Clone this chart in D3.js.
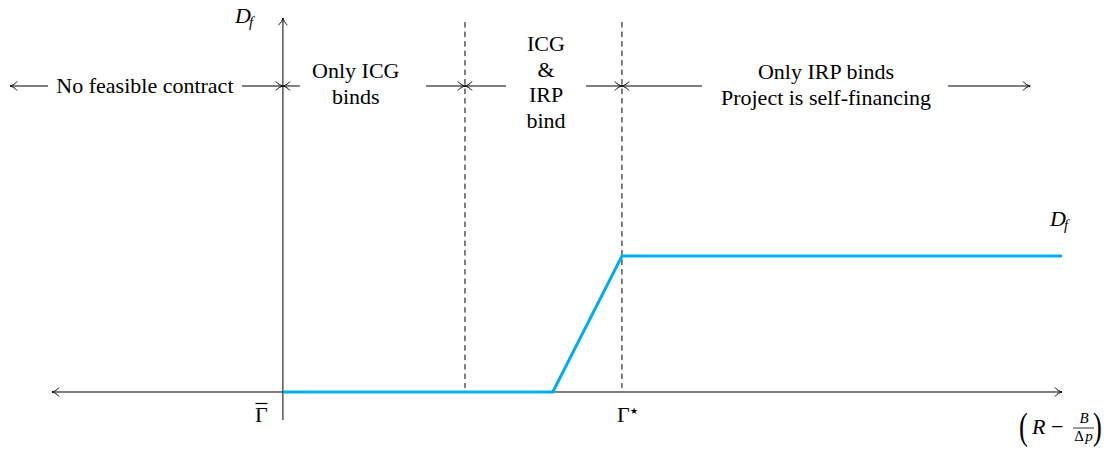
<!DOCTYPE html>
<html><head><meta charset="utf-8">
<script src="https://cdn.jsdelivr.net/npm/d3@7"></script>
</head><body style="margin:0">
<svg id="c" width="1107" height="452"></svg>
<script>
// ---------- data (normalised units: Gamma-bar = 0, Gamma-star = 1, D_f plateau = 1) ----------
const dfX = [0, 0.796, 1, 2.298];
const dfY = [0, 0, 1, 1];
const thresholds = [0.537, 1];                 // dashed vertical lines
const regionBounds = [-0.805, 0, 0.537, 1, 2.204];
const regionLabels = [
  ["No feasible contract"],
  ["Only ICG", "binds"],
  ["ICG", "&", "IRP", "bind"],
  ["Only IRP binds", "Project is self-financing"]
];
const regionLabelX = [-0.407, 0.215, 0.776, 1.602];
const regionGaps = [[-0.693, -0.121], [0.050, 0.422], [0.658, 0.894], [1.236, 1.962]];
const regionFirstBaseline = [93, 78, 51, 79];
const annotationLevel = 2.25;
const xAxisExtent = [-0.681, 2.298];
const yAxisExtent = [-0.206, 2.75];

const SERIF = "Liberation Serif";
const FS = 22;

// ---------- scales ----------
const svg = d3.select("#c");
const x = d3.scaleLinear().domain([-0.805, 2.298]).range([10, 1062]);
const y = d3.scaleLinear().domain([-0.206, 2.75]).range([420, 18]);

function arrowHead(g, tx, ty, angleDeg) {
  g.append("path")
    .attr("d", "M-7,-4.5 C-5,-1.6 -1.6,-0.5 0,0 C-1.6,0.5 -5,1.6 -7,4.5")
    .attr("transform", `translate(${tx},${ty}) rotate(${angleDeg})`)
    .attr("fill", "none").attr("stroke", "#000").attr("stroke-width", 1);
}
function txt(px, py, size) {
  const t = svg.append("text").attr("font-family", SERIF).attr("font-size", size || FS);
  if (px !== null) t.attr("x", px).attr("y", py);
  return t;
}

// dashed threshold lines
svg.selectAll("line.dash").data(thresholds).join("line")
  .attr("class", "dash")
  .attr("x1", d => x(d)).attr("x2", d => x(d))
  .attr("y1", y(2.72)).attr("y2", y(0.03))
  .attr("stroke", "#000").attr("stroke-width", 1).attr("stroke-dasharray", "5.5,4");

// axes
svg.append("line").attr("x1", x(xAxisExtent[0])).attr("x2", x(xAxisExtent[1]))
  .attr("y1", y(0)).attr("y2", y(0)).attr("stroke", "#000").attr("stroke-width", 1);
arrowHead(svg, x(xAxisExtent[0]), y(0), 180);
arrowHead(svg, x(xAxisExtent[1]), y(0), 0);
svg.append("line").attr("x1", x(0)).attr("x2", x(0))
  .attr("y1", y(yAxisExtent[0])).attr("y2", y(yAxisExtent[1])).attr("stroke", "#000").attr("stroke-width", 1);
arrowHead(svg, x(0), y(yAxisExtent[1]), -90);

// D_f curve
const pts = dfX.map((v, i) => [v, dfY[i]]);
svg.append("path").datum(pts)
  .attr("d", d3.line().x(d => x(d[0])).y(d => y(d[1])))
  .attr("fill", "none").attr("stroke", "#00AEEF").attr("stroke-width", 3)
  .attr("stroke-linejoin", "miter");

// region annotations
const ya = y(annotationLevel);
regionLabels.forEach((lines, i) => {
  const a = regionBounds[i], b = regionBounds[i + 1];
  const [g0, g1] = regionGaps[i];
  svg.append("line").attr("x1", x(a)).attr("x2", x(g0)).attr("y1", ya).attr("y2", ya)
    .attr("stroke", "#000").attr("stroke-width", 1);
  svg.append("line").attr("x1", x(g1)).attr("x2", x(b)).attr("y1", ya).attr("y2", ya)
    .attr("stroke", "#000").attr("stroke-width", 1);
  arrowHead(svg, x(a), ya, 180);
  arrowHead(svg, x(b), ya, 0);
  lines.forEach((s, j) => {
    txt(x(regionLabelX[i]), Math.round(regionFirstBaseline[i] + j * 25.6)).attr("text-anchor", "middle").text(s);
  });
});

// math labels: D_f
function df(px, py) {
  txt(px, py).attr("font-style", "italic").text("D");
  txt(px + 14, py + 4, 15).attr("font-style", "italic").text("f");
}
df(235, 23);
df(1050, 226);

// Gamma bar
const gb = txt(255, 422).text("Γ");
const bb = gb.node().getBBox();
svg.append("line").attr("x1", bb.x + 0.5).attr("x2", bb.x + bb.width - 0.5)
  .attr("y1", 403.5).attr("y2", 403.5).attr("stroke", "#000").attr("stroke-width", 1.2);

// Gamma star
txt(617, 422).text("Γ");
svg.append("text").attr("x", 630).attr("y", 414).attr("font-family", "DejaVu Sans").attr("font-size", 9).text("★");

// (R - B/Δp)
txt(null, null, 38).attr("transform", "translate(1019,439) scale(0.7,1)").text("(");
txt(1032, 434).attr("font-style", "italic").text("R");
txt(1051, 434).text("−");
txt(1084, 423, 15).attr("text-anchor", "middle").attr("font-style", "italic").text("B");
svg.append("line").attr("x1", 1073).attr("x2", 1094).attr("y1", 428).attr("y2", 428).attr("stroke", "#000").attr("stroke-width", 0.8);
txt(1079, 441, 15).attr("text-anchor", "middle").text("Δ");
txt(1089, 441, 15).attr("text-anchor", "middle").attr("font-style", "italic").text("p");
txt(null, null, 38).attr("transform", "translate(1093,439) scale(0.7,1)").text(")");
</script>
</body></html>
